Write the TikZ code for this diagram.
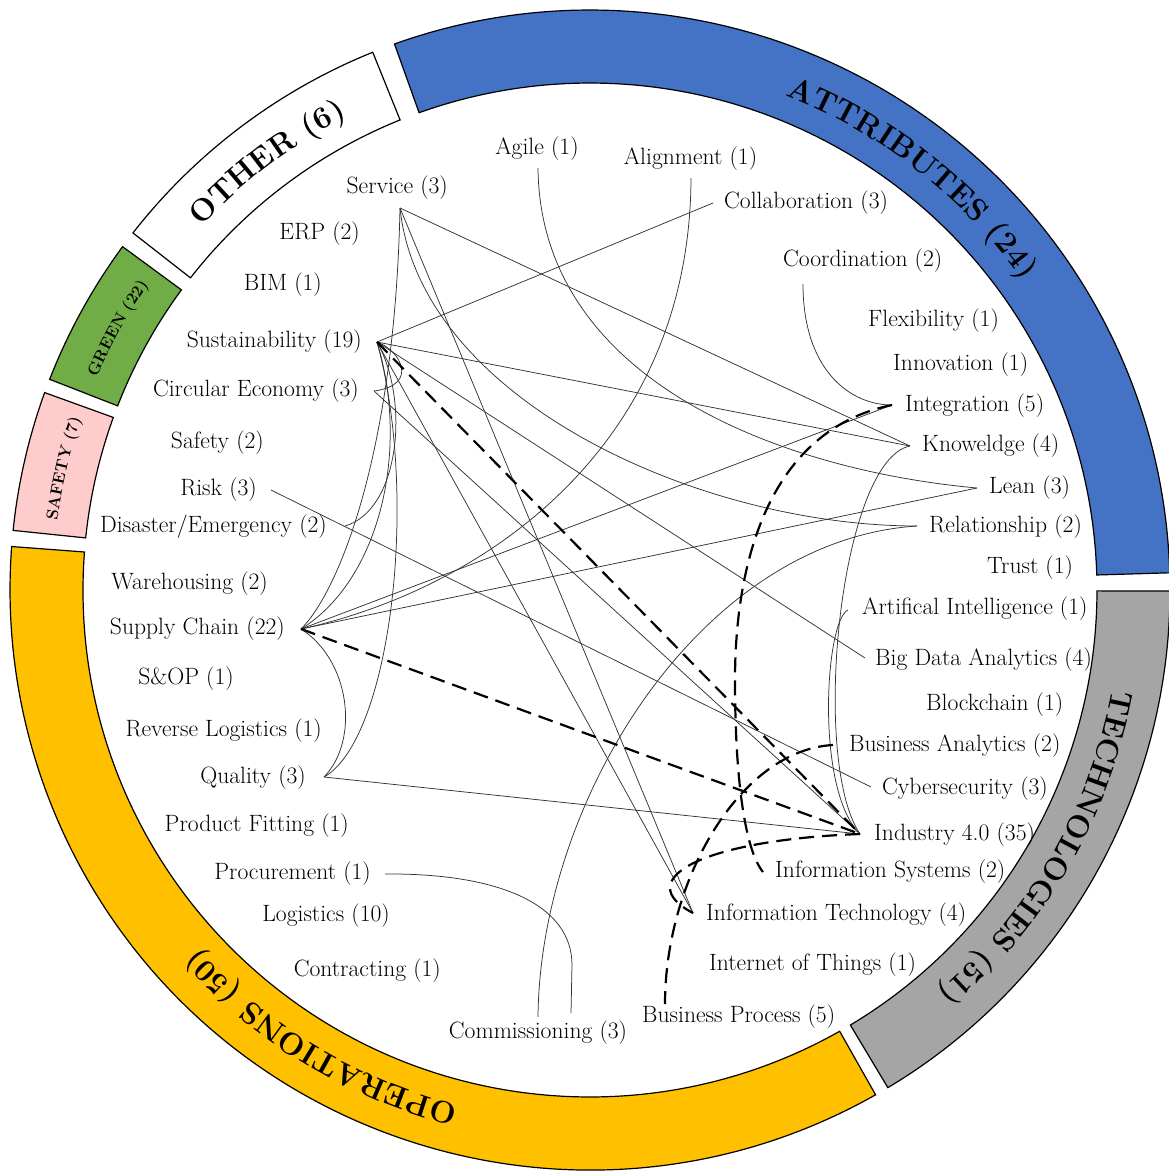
\documentclass[tikz,border=0pt]{standalone}
\usetikzlibrary{decorations.text}
\definecolor{attrcol}{HTML}{4472C4}
\definecolor{techcol}{HTML}{A5A5A5}
\definecolor{opercol}{HTML}{FFC000}
\definecolor{safecol}{HTML}{FFCCCC}
\definecolor{greencol}{HTML}{70AD47}
\begin{document}
\begin{tikzpicture}[x=1pt, y=-1pt,
  lab/.style={font=\fontsize{23.6}{28}\selectfont, inner sep=0pt},
  lft/.style={lab, anchor=east},
  rgt/.style={lab, anchor=west},
  link/.style={draw=black!80, line width=0.75pt},
  dlink/.style={draw=black, line width=2.2pt, dash pattern=on 15pt off 8pt},
  seg/.style={draw=black, line width=1.2pt},
]
\useasboundingbox (0,0) rectangle (1169,1171);

% ---------------- ring ----------------
\begin{scope}[shift={(590,590)}, y=1pt]
  \draw[seg, fill=attrcol] (1.7:507) arc[start angle=1.7, end angle=109.7, radius=507]
     -- (109.7:580) arc[start angle=109.7, end angle=1.7, radius=580] -- cycle;
  \draw[seg, fill=white] (112:507) arc[start angle=112, end angle=142, radius=507]
     -- (142:580) arc[start angle=142, end angle=112, radius=580] -- cycle;
  \draw[seg, fill=greencol] (143.7:507) arc[start angle=143.7, end angle=158.7, radius=507]
     -- (158.7:580) arc[start angle=158.7, end angle=143.7, radius=580] -- cycle;
  \draw[seg, fill=safecol] (160.1:507) arc[start angle=160.1, end angle=174.1, radius=507]
     -- (174.1:580) arc[start angle=174.1, end angle=160.1, radius=580] -- cycle;
  \draw[seg, fill=opercol] (175.7:507) arc[start angle=175.7, end angle=299.5, radius=507]
     -- (299.5:580) arc[start angle=299.5, end angle=175.7, radius=580] -- cycle;
  \draw[seg, fill=techcol] (300.9:507) arc[start angle=300.9, end angle=359.9, radius=507]
     -- (359.9:580) arc[start angle=359.9, end angle=300.9, radius=580] -- cycle;

  \path[decorate, decoration={text along path, text align=center,
     text={|\fontsize{31}{36}\selectfont\bfseries|OTHER (6)}}]
     (187:532) arc[start angle=187, end angle=67, radius=532];
  \path[decorate, decoration={text along path, text align=center,
     text={|\fontsize{31}{36}\selectfont\bfseries|ATTRIBUTES (24)}}]
     (112:532) arc[start angle=112, end angle=-8, radius=532];
  \path[decorate, decoration={text along path, text align=center,
     text={|\fontsize{31}{36}\selectfont\bfseries|TECHNOLOGIES (51)}}]
     (40:532) arc[start angle=40, end angle=-100, radius=532];
  \path[decorate, decoration={text along path, text align=center,
     text={|\fontsize{31}{36}\selectfont\bfseries|OPERATIONS (50)}}]
     (309:532) arc[start angle=309, end angle=169, radius=532];
  \path[decorate, decoration={text along path, text align=center,
     text={|\fontsize{16.5}{20}\selectfont\bfseries|GREEN (22)}}]
     (211:537) arc[start angle=211, end angle=91, radius=537];
  \path[decorate, decoration={text along path, text align=center,
     text={|\fontsize{16.5}{20}\selectfont\bfseries|SAFETY (7)}}]
     (227:537) arc[start angle=227, end angle=107, radius=537];
\end{scope}

% ---------------- labels ----------------
\node[lft] (service) at (448,188) {Service (3)};
\node[lft] (erp) at (360,234) {ERP (2)};
\node[lft] (bim) at (322,285) {BIM (1)};
\node[lft] (sust) at (362,342) {Sustainability (19)};
\node[lft] (ce) at (359,391) {Circular Economy (3)};
\node[lft] (safety) at (264,443) {Safety (2)};
\node[lft] (risk) at (257,490) {Risk (3)};
\node[lft] (dis) at (327,527) {Disaster/Emergency (2)};
\node[lft] (ware) at (268,584) {Warehousing (2)};
\node[lft] (sc) at (285,629) {Supply Chain (22)};
\node[lft] (sop) at (234,679) {S\&OP (1)};
\node[lft] (rl) at (322,731) {Reverse Logistics (1)};
\node[lft] (qual) at (306,778) {Quality (3)};
\node[lft] (pf) at (349,826) {Product Fitting (1)};
\node[lft] (proc) at (371,874) {Procurement (1)};
\node[lft] (logi) at (390,916) {Logistics (10)};
\node[lft] (contr) at (441,971) {Contracting (1)};
\node[lab] (comm) at (538,1033) {Commissioning (3)};

\node[lab] (agile) at (537,149) {Agile (1)};
\node[lab] (align) at (690.5,159) {Alignment (1)};
\node[rgt] (collab) at (724,203) {Collaboration (3)};
\node[rgt] (coord) at (783,261) {Coordination (2)};
\node[rgt] (flex) at (868,321) {Flexibility (1)};
\node[rgt] (innov) at (893,365) {Innovation (1)};
\node[rgt] (integ) at (905,406) {Integration (5)};
\node[rgt] (know) at (922,446) {Knoweldge (4)};
\node[rgt] (lean) at (989,488) {Lean (3)};
\node[rgt] (rel) at (929,527) {Relationship (2)};
\node[rgt] (trust) at (987,568) {Trust (1)};
\node[rgt] (ai) at (862,609) {Artifical Intelligence (1)};
\node[rgt] (bda) at (875,660) {Big Data Analytics (4)};
\node[rgt] (block) at (926,705) {Blockchain (1)};
\node[rgt] (ba) at (849,746) {Business Analytics (2)};
\node[rgt] (cyber) at (882,789) {Cybersecurity (3)};
\node[rgt] (ind) at (874,835) {Industry 4.0 (35)};
\node[rgt] (is) at (775,872) {Information Systems (2)};
\node[rgt] (it) at (706,915) {Information Technology (4)};
\node[rgt] (iot) at (709,965) {Internet of Things (1)};
\node[rgt] (bp) at (642,1017) {Business Process (5)};

% ---------------- connection points ----------------
\coordinate (pService) at (400,208);
\coordinate (pSust) at (377,342);
\coordinate (pCE) at (374,391);
\coordinate (pRisk) at (271,490);
\coordinate (pDis) at (345,526);
\coordinate (pSC) at (301,629);
\coordinate (pQual) at (324,777);
\coordinate (pProc) at (385,874);
\coordinate (pCommA) at (538,1017);
\coordinate (pCommB) at (571,1013);
\coordinate (pAgile) at (538,168);
\coordinate (pAlign) at (691,178);
\coordinate (pCollab) at (713,203);
\coordinate (pCoord) at (803,284);
\coordinate (pInteg) at (892,405);
\coordinate (pKnow) at (910,446);
\coordinate (pLean) at (977,488);
\coordinate (pRel) at (917,526);
\coordinate (pAI) at (848,610);
\coordinate (pBDA) at (865,658);
\coordinate (pBA) at (833,745);
\coordinate (pCyber) at (871,787);
\coordinate (pInd) at (860,834);
\coordinate (pIS) at (763,872);
\coordinate (pIT) at (693,913);
\coordinate (pBP) at (665,1004);

% ---------------- solid connectors ----------------
\draw[link] (pService) -- (pKnow);
\draw[link] (pService) -- (pIT);
\draw[link] (pService) .. controls (420,400) and (700,526) .. (pRel);
\draw[link] (pService) .. controls (395,450) and (340,590) .. (pSC);
\draw[link] (pSust) -- (pCollab);
\draw[link] (pSust) -- (pKnow);
\draw[link] (pSust) -- (pBDA);
\draw[link] (pSust) -- (pIT);
\draw[link] (pSust) .. controls (410,450) and (380,580) .. (pSC);
\draw[link] (pSust) .. controls (420,500) and (390,740) .. (pQual);
\draw[link] (pSust) .. controls (410,400) and (400,510) .. (pDis);
\draw[link] (pCE) .. controls (420,385) and (400,350) .. (pSust);
\draw[link] (pCE) -- (pInd);
\draw[link] (pRisk) -- (pCyber);
\draw[link] (pSC) -- (pInteg);
\draw[link] (pSC) -- (pLean);
\draw[link] (pSC) .. controls (350,660) and (360,740) .. (pQual);
\draw[link] (pQual) -- (pInd);
\draw[link] (pProc) .. controls (500,873) and (572,905) .. (572,965) -- (pCommB);
\draw[link] (pRel) .. controls (700,540) and (540,800) .. (pCommA);
\draw[link] (pAgile) .. controls (540,380) and (780,470) .. (pLean);
\draw[link] (pAlign) .. controls (690,450) and (480,590) .. (pSC);
\draw[link] (pCoord) .. controls (803,370) and (850,405) .. (pInteg);
\draw[link] (pKnow) .. controls (840,460) and (810,760) .. (pInd);
\draw[link] (pAI) .. controls (825,620) and (815,790) .. (pInd);

% ---------------- dashed connectors ----------------
\draw[dlink] (pSust) -- (pInd);
\draw[dlink] (pSC) -- (pInd);
\draw[dlink] (pInteg) .. controls (770,430) and (735,560) .. (735,680)
   .. controls (735,780) and (745,850) .. (pIS);
\draw[dlink] (pBA) .. controls (740,750) and (665,880) .. (pBP);
\draw[dlink] (pInd) .. controls (700,840) and (630,880) .. (pIT);
\end{tikzpicture}
\end{document}
